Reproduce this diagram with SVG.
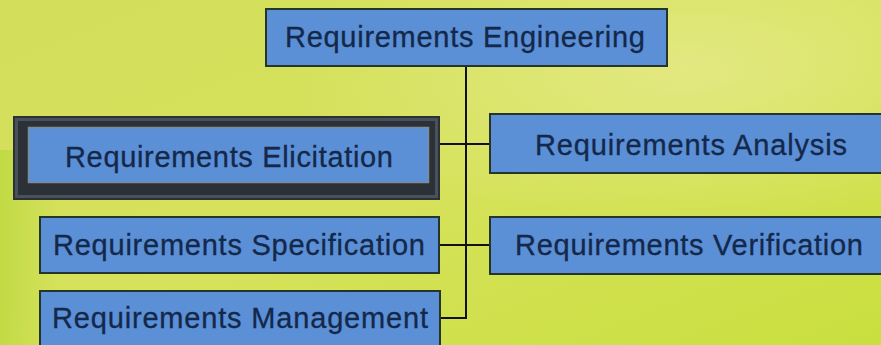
<svg xmlns="http://www.w3.org/2000/svg" width="881" height="345" viewBox="0 0 881 345">
  <defs>
    <linearGradient id="bg" x1="0" y1="0" x2="1" y2="1">
      <stop offset="0" stop-color="#d3df5a"/>
      <stop offset="0.5" stop-color="#d6e25c"/>
      <stop offset="1" stop-color="#c9df3e"/>
    </linearGradient>
    <radialGradient id="glow" cx="0.78" cy="0.2" r="0.45">
      <stop offset="0" stop-color="#e6ea8a" stop-opacity="0.8"/>
      <stop offset="1" stop-color="#e6ea8a" stop-opacity="0"/>
    </radialGradient>
    <linearGradient id="leftEdge" x1="0" y1="0" x2="1" y2="0">
      <stop offset="0" stop-color="#b9d83a" stop-opacity="0.7"/>
      <stop offset="1" stop-color="#b9d83a" stop-opacity="0"/>
    </linearGradient>
  </defs>
  <style>
    .box { fill: #5b8fd6; stroke: #26352c; stroke-width: 2; }
    .label { font-family: "Liberation Sans", Arial, sans-serif; font-size: 29px; fill: #14284a; stroke: #14284a; stroke-width: 0.3; }
    .wire { stroke: #111; stroke-width: 2; fill: none; }
  </style>

  <!-- background -->
  <rect x="0" y="0" width="881" height="345" fill="url(#bg)"/>
  <rect x="0" y="0" width="881" height="345" fill="url(#glow)"/>
  <rect x="0" y="150" width="60" height="195" fill="url(#leftEdge)"/>

  <!-- connectors -->
  <g id="connectors">
    <path class="wire" d="M466 66 V318 H440"/>
    <path class="wire" d="M440 144 H490"/>
    <path class="wire" d="M439 245 H490"/>
  </g>

  <g id="engineering">
    <rect class="box" x="266" y="9" width="401" height="57"/>
    <text class="label" x="285" y="47" textLength="360" lengthAdjust="spacing">Requirements Engineering</text>
  </g>

  <g id="elicitation">
    <rect x="13" y="116" width="427" height="84" fill="#2c3138"/>
    <rect x="16.5" y="119.5" width="420" height="77" fill="none" stroke="#49525b" stroke-width="3"/>
    <rect x="28.5" y="127.5" width="400" height="55" fill="#5b8fd6" stroke="#7f8c98" stroke-width="1.5"/>
    <text class="label" x="65" y="167" textLength="328" lengthAdjust="spacing">Requirements Elicitation</text>
  </g>

  <g id="analysis">
    <rect class="box" x="490" y="114" width="400" height="59"/>
    <text class="label" x="535" y="155" textLength="312" lengthAdjust="spacing">Requirements Analysis</text>
  </g>

  <g id="specification">
    <rect class="box" x="40" y="217" width="399" height="56"/>
    <text class="label" x="53" y="255" textLength="372" lengthAdjust="spacing">Requirements Specification</text>
  </g>

  <g id="verification">
    <rect class="box" x="490" y="217" width="400" height="57"/>
    <text class="label" x="515" y="255" textLength="348" lengthAdjust="spacing">Requirements Verification</text>
  </g>

  <g id="management">
    <rect class="box" x="40" y="291" width="400" height="60"/>
    <text class="label" x="52" y="328" textLength="376" lengthAdjust="spacing">Requirements Management</text>
  </g>
</svg>
